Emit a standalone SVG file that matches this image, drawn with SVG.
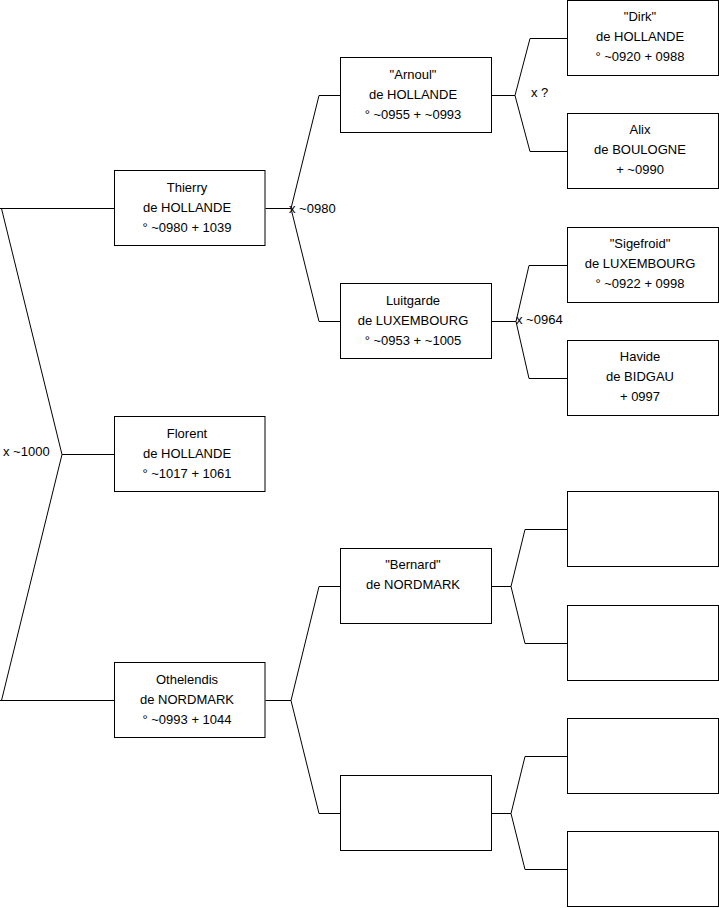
<svg xmlns="http://www.w3.org/2000/svg" width="719" height="908" viewBox="0 0 719 908">
<style>
.box{fill:#fff;stroke:#000;stroke-width:1}
.c{fill:none;stroke:#000;stroke-width:1}
text{font-family:"Liberation Sans",Arial,sans-serif;font-size:13px;fill:#000}
.n{text-anchor:middle}
</style>
<rect width="719" height="908" fill="#fff"/>
<g id="connectors">
<path class="c" d="M0,208.5 H114.5 M1.5,208.5 L62,454.5 L1.5,700.5 M62,454.5 H114.5 M0,700.5 H114.5"/>
<path class="c" d="M265.5,208.5 H291 M340.5,95.5 H319 L291,208.5 L319,321.5 H340.5"/>
<path class="c" d="M265.5,700.5 H291 M340.5,586.5 H319 L291,700.5 L319,813.5 H340.5"/>
<path class="c" d="M491.5,95.5 H515 M567.5,38.5 H530 L515,95.5 L530,151.5 H567.5"/>
<path class="c" d="M491.5,321.5 H516 M567.5,265.5 H529 L516,321.5 L529,378.5 H567.5"/>
<path class="c" d="M491.5,586.5 H511 M567.5,529.5 H525 L511,586.5 L525,643.5 H567.5"/>
<path class="c" d="M491.5,813.5 H511 M567.5,756.5 H525 L511,813.5 L525,869.5 H567.5"/>
<text x="3" y="456">x ~1000</text>
<text x="289" y="213">x ~0980</text>
<text x="531" y="97">x ?</text>
<text x="516" y="324">x ~0964</text>
</g>
<g id="thierry"><rect class="box" x="114.5" y="170.5" width="150.5" height="75"/>
<text class="n" x="187" y="192">Thierry</text><text class="n" x="187" y="212">de HOLLANDE</text><text class="n" x="187" y="232">° ~0980 + 1039</text></g>
<g id="florent"><rect class="box" x="114.5" y="416.5" width="150.5" height="75"/>
<text class="n" x="187" y="438">Florent</text><text class="n" x="187" y="458">de HOLLANDE</text><text class="n" x="187" y="478">° ~1017 + 1061</text></g>
<g id="othelendis"><rect class="box" x="114.5" y="662.5" width="150.5" height="75"/>
<text class="n" x="187" y="684">Othelendis</text><text class="n" x="187" y="704">de NORDMARK</text><text class="n" x="187" y="724">° ~0993 + 1044</text></g>
<g id="arnoul"><rect class="box" x="340.5" y="57.5" width="151" height="75"/>
<text class="n" x="413" y="79">"Arnoul"</text><text class="n" x="413" y="99">de HOLLANDE</text><text class="n" x="413" y="119">° ~0955 + ~0993</text></g>
<g id="luitgarde"><rect class="box" x="340.5" y="283.5" width="151" height="75"/>
<text class="n" x="413" y="305">Luitgarde</text><text class="n" x="413" y="325">de LUXEMBOURG</text><text class="n" x="413" y="345">° ~0953 + ~1005</text></g>
<g id="bernard"><rect class="box" x="340.5" y="548.5" width="151" height="75"/>
<text class="n" x="413" y="569">"Bernard"</text><text class="n" x="413" y="589">de NORDMARK</text></g>
<g id="empty2"><rect class="box" x="340.5" y="775.5" width="151" height="75"/></g>
<g id="dirk"><rect class="box" x="567.5" y="0.5" width="151" height="75"/>
<text class="n" x="640" y="21">"Dirk"</text><text class="n" x="640" y="41">de HOLLANDE</text><text class="n" x="640" y="61">° ~0920 + 0988</text></g>
<g id="alix"><rect class="box" x="567.5" y="113.5" width="151" height="75"/>
<text class="n" x="640" y="134">Alix</text><text class="n" x="640" y="154">de BOULOGNE</text><text class="n" x="640" y="174">+ ~0990</text></g>
<g id="sigefroid"><rect class="box" x="567.5" y="227.5" width="151" height="75"/>
<text class="n" x="640" y="248">"Sigefroid"</text><text class="n" x="640" y="268">de LUXEMBOURG</text><text class="n" x="640" y="288">° ~0922 + 0998</text></g>
<g id="havide"><rect class="box" x="567.5" y="340.5" width="151" height="75"/>
<text class="n" x="640" y="361">Havide</text><text class="n" x="640" y="381">de BIDGAU</text><text class="n" x="640" y="401">+ 0997</text></g>
<g id="empty3a"><rect class="box" x="567.5" y="491.5" width="151" height="75"/></g>
<g id="empty3b"><rect class="box" x="567.5" y="605.5" width="151" height="75"/></g>
<g id="empty3c"><rect class="box" x="567.5" y="718.5" width="151" height="75"/></g>
<g id="empty3d"><rect class="box" x="567.5" y="831.5" width="151" height="75"/></g>
</svg>
